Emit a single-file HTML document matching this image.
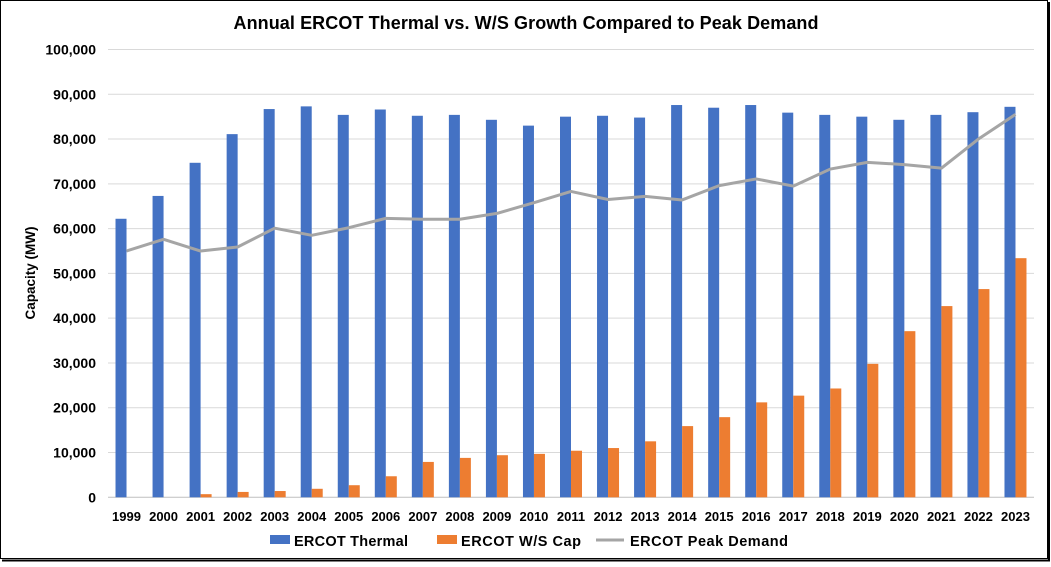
<!DOCTYPE html>
<html><head><meta charset="utf-8"><style>
body{margin:0;background:#fff;}
svg text{font-family:"Liberation Sans",Arial,sans-serif;font-weight:bold;fill:#000;}
</style></head><body>
<svg id="chart" width="1051" height="562" viewBox="0 0 1051 562">
<rect x="0.5" y="0.5" width="1047" height="558" fill="#fff" stroke="#000" stroke-width="1"/>
<line x1="1049" y1="2" x2="1049" y2="561" stroke="#000" stroke-width="2"/>
<line x1="2" y1="560.5" x2="1050" y2="560.5" stroke="#000" stroke-width="2"/>
<text x="526" y="29" text-anchor="middle" font-size="18" textLength="585">Annual ERCOT Thermal vs. W/S Growth Compared to Peak Demand</text>
<text transform="translate(35,273) rotate(-90)" text-anchor="middle" font-size="13.5">Capacity (MW)</text>
<g id="grid"></g><g id="bars"></g><g id="line"></g><g id="xlabels"></g><g id="ylabels"></g>
<g>
<rect x="270" y="535" width="20" height="9" fill="#4472C4"/>
<text x="294" y="546" font-size="14.5" textLength="114">ERCOT Thermal</text>
<rect x="437" y="535" width="20" height="9" fill="#ED7D31"/>
<text x="461" y="546" font-size="14.5" textLength="120">ERCOT W/S Cap</text>
<line x1="596" y1="540" x2="624" y2="540" stroke="#A5A5A5" stroke-width="3"/>
<text x="630" y="546" font-size="14.5" textLength="158">ERCOT Peak Demand</text>
</g>
</svg>
<script>
const categories=[1999,2000,2001,2002,2003,2004,2005,2006,2007,2008,2009,2010,2011,2012,2013,2014,2015,2016,2017,2018,2019,2020,2021,2022,2023];
const thermal=[62200,67300,74700,81100,86700,87300,85400,86600,85200,85400,84300,83000,85000,85200,84800,87600,87000,87600,85900,85400,85000,84300,85400,86000,87200];
const wsCap=[0,0,700,1200,1400,1900,2700,4700,7900,8800,9400,9700,10400,11000,12500,15900,17900,21200,22700,24300,29800,37100,42700,46500,53400];
const peakDemand=[55000,57600,55000,55900,60100,58500,60200,62300,62100,62100,63400,65800,68300,66500,67200,66400,69600,71100,69500,73300,74800,74300,73500,80000,85500];
const yTicks=[0,10000,20000,30000,40000,50000,60000,70000,80000,90000,100000];
const NS='http://www.w3.org/2000/svg';
const L=108,R=1034,T=49.5,B=497.3,YMAX=100000;
const band=(R-L)/categories.length;
const x=i=>L+band*(i+0.5);
const y=v=>B-(v/YMAX)*(B-T);
const bw=11;
function mk(tag,attrs,parent){const e=document.createElementNS(NS,tag);for(const k in attrs)e.setAttribute(k,attrs[k]);document.getElementById(parent).appendChild(e);return e;}
yTicks.forEach(t=>{
  const g=mk('line',{x1:L,x2:R,y1:y(t),y2:y(t),stroke:t===0?'#bfbfbf':'#d9d9d9','stroke-width':1},'grid');
  
  
  const tx=mk('text',{x:96,y:y(t)+5,'text-anchor':'end','font-size':14},'ylabels');
  tx.textContent=t.toLocaleString('en-US');
  
  
});
categories.forEach((c,i)=>{
  const b1=mk('rect',{x:x(i)-bw,y:y(thermal[i]),width:bw,height:B-y(thermal[i]),fill:'#4472C4'},'bars');
  
  
  const b2=mk('rect',{x:x(i),y:y(wsCap[i]),width:bw,height:B-y(wsCap[i]),fill:'#ED7D31'},'bars');
  
  
  const t=mk('text',{x:x(i),y:521,'text-anchor':'middle','font-size':13},'xlabels');
  t.textContent=c;
  
  
});
const pts=peakDemand.map((v,i)=>x(i)+','+y(v)).join(' ');
const pl=mk('polyline',{points:pts,fill:'none',stroke:'#A5A5A5','stroke-width':3,'stroke-linejoin':'round'},'line');


</script>
</body></html>
